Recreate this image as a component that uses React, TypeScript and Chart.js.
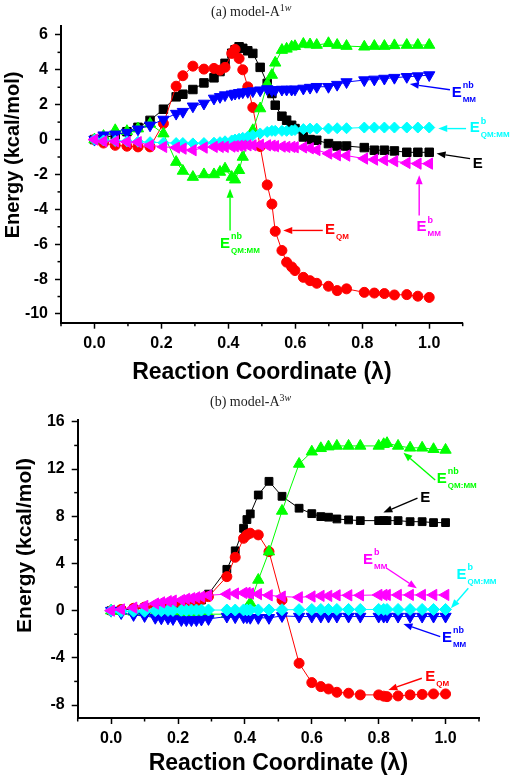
import React, { useEffect, useRef } from "react";
import { Chart, registerables } from "chart.js";
Chart.register(...registerables);

const SANS = "'Liberation Sans', Arial, Helvetica, sans-serif";

// ---------- Panel (a) model-A1w ----------
const lambdaA = [0, 0.027, 0.062, 0.097, 0.13, 0.166, 0.206, 0.244, 0.264, 0.294, 0.327, 0.357, 0.375, 0.39, 0.41, 0.42, 0.432, 0.443, 0.458, 0.473, 0.495, 0.516, 0.53, 0.54, 0.56, 0.574, 0.589, 0.599, 0.624, 0.644, 0.664, 0.699, 0.725, 0.753, 0.806, 0.836, 0.866, 0.896, 0.933, 0.966, 1.0];
const eTotalA = [0, 0.1, 0.25, 0.45, 0.7, 1.1, 1.74, 2.45, 2.6, 2.87, 3.25, 3.54, 3.9, 4.37, 4.95, 5.15, 5.32, 5.23, 5.09, 4.94, 4.14, 3.22, 2.64, 1.97, 1.34, 1.11, 0.82, 0.63, 0.15, 0.0, -0.04, -0.23, -0.37, -0.37, -0.46, -0.61, -0.61, -0.65, -0.73, -0.73, -0.73];
const eQMA = [0, -0.2, -0.33, -0.38, -0.42, -0.42, 0.92, 3.06, 3.66, 4.21, 4.04, 4.08, 3.98, 4.14, 4.94, 5.17, 4.65, 4.0, 3.02, 1.84, -0.4, -2.6, -3.7, -5.26, -6.36, -7.03, -7.3, -7.51, -7.9, -8.09, -8.24, -8.41, -8.66, -8.56, -8.76, -8.8, -8.83, -8.91, -8.89, -8.98, -9.05];
const eNbQMMMA = [0, 0.2, 0.53, 0.48, 0.63, 0.9, 0.34, -1.29, -1.8, -2.15, -2.0, -2.0, -1.86, -1.67, -2.15, -2.3, -1.76, -1.0, -0.2, 0.53, 1.78, 3.18, 3.7, 4.4, 5.13, 5.2, 5.32, 5.35, 5.48, 5.45, 5.42, 5.52, 5.42, 5.36, 5.32, 5.36, 5.36, 5.4, 5.42, 5.42, 5.42];
const eNbMMA = [0, 0.25, 0.3, 0.4, 0.59, 0.82, 1.15, 1.49, 1.6, 1.91, 2.07, 2.36, 2.45, 2.55, 2.6, 2.64, 2.68, 2.72, 2.74, 2.78, 2.83, 2.9, 2.83, 2.85, 2.87, 2.87, 2.87, 2.88, 2.93, 2.98, 3.03, 3.03, 3.15, 3.3, 3.41, 3.45, 3.5, 3.55, 3.6, 3.64, 3.7];
const eBQMMMA = [0, -0.05, -0.08, -0.1, -0.12, -0.15, -0.18, -0.2, -0.2, -0.22, -0.2, -0.18, -0.15, -0.1, -0.05, 0.0, 0.05, 0.1, 0.17, 0.25, 0.35, 0.44, 0.5, 0.5, 0.5, 0.5, 0.52, 0.55, 0.6, 0.63, 0.63, 0.63, 0.65, 0.65, 0.69, 0.69, 0.69, 0.69, 0.69, 0.69, 0.69];
const eBMMA = [0, -0.1, -0.1, -0.13, -0.15, -0.33, -0.42, -0.46, -0.52, -0.61, -0.46, -0.42, -0.42, -0.42, -0.4, -0.38, -0.36, -0.35, -0.33, -0.33, -0.3, -0.33, -0.35, -0.38, -0.4, -0.42, -0.42, -0.44, -0.45, -0.5, -0.6, -0.8, -0.9, -0.92, -1.09, -1.15, -1.18, -1.24, -1.34, -1.38, -1.38];

// ---------- Panel (b) model-A3w ----------
const lambdaB = [0, 0.03, 0.067, 0.1, 0.132, 0.15, 0.17, 0.185, 0.21, 0.225, 0.24, 0.255, 0.27, 0.291, 0.346, 0.371, 0.396, 0.406, 0.416, 0.44, 0.472, 0.511, 0.562, 0.6, 0.627, 0.65, 0.675, 0.71, 0.745, 0.8, 0.815, 0.825, 0.858, 0.894, 0.93, 0.964, 1.0];
const eTotalB = [0, 0.05, 0.15, 0.25, 0.35, 0.4, 0.45, 0.5, 0.6, 0.65, 0.7, 0.8, 0.9, 1.4, 3.5, 5.07, 6.98, 7.72, 8.2, 9.8, 10.96, 9.69, 8.68, 8.22, 7.97, 7.92, 7.77, 7.69, 7.63, 7.63, 7.63, 7.63, 7.63, 7.54, 7.54, 7.46, 7.46];
const eQMB = [0, 0.1, 0.2, 0.3, 0.4, 0.45, 0.5, 0.55, 0.65, 0.7, 0.78, 0.85, 0.95, 1.19, 2.88, 4.52, 6.13, 6.42, 6.56, 6.42, 5.0, 0.9, -4.46, -6.1, -6.44, -6.64, -6.92, -7.0, -7.14, -7.14, -7.25, -7.29, -7.23, -7.14, -7.1, -7.06, -7.06];
const eNbQMMMB = [0, -0.05, -0.1, -0.15, -0.2, -0.2, -0.25, -0.25, -0.3, -0.3, -0.3, -0.3, -0.3, -0.3, -0.3, -0.25, -0.1, 0.2, 0.65, 2.6, 5.0, 8.45, 12.43, 13.47, 13.76, 13.9, 13.96, 13.96, 13.96, 13.96, 14.1, 14.19, 13.96, 13.8, 13.8, 13.68, 13.62];
const eNbMMB = [0, -0.2, -0.36, -0.45, -0.6, -0.65, -0.65, -0.7, -0.79, -0.8, -0.8, -0.8, -0.75, -0.7, -0.5, -0.55, -0.55, -0.55, -0.6, -0.61, -0.61, -0.45, -0.5, -0.5, -0.5, -0.5, -0.5, -0.5, -0.5, -0.5, -0.5, -0.5, -0.5, -0.5, -0.5, -0.5, -0.5];
const eBQMMMB = [0, -0.05, -0.05, -0.05, 0, 0, 0.02, 0.02, 0.03, 0.03, 0.05, 0.05, 0.05, 0.05, 0.05, 0.05, 0.06, 0.06, 0.06, 0.06, 0.06, 0.08, 0.08, 0.1, 0.1, 0.1, 0.1, 0.1, 0.1, 0.1, 0.1, 0.1, 0.1, 0.1, 0.1, 0.1, 0.1];
const eBMMB = [0, 0.1, 0.25, 0.4, 0.6, 0.7, 0.8, 0.85, 0.9, 1.0, 1.05, 1.13, 1.19, 1.3, 1.4, 1.45, 1.5, 1.5, 1.45, 1.4, 1.3, 1.19, 1.13, 1.2, 1.25, 1.25, 1.3, 1.3, 1.3, 1.33, 1.33, 1.33, 1.33, 1.33, 1.33, 1.33, 1.33];

// ---------- tick values ----------
const xTickValues = [-0.1, 0, 0.1, 0.2, 0.3, 0.4, 0.5, 0.6, 0.7, 0.8, 0.9, 1.0, 1.1];
const yTickValuesA = [-10, -9, -8, -7, -6, -5, -4, -3, -2, -1, 0, 1, 2, 3, 4, 5, 6];
const yTickValuesB = [-8, -6, -4, -2, 0, 2, 4, 6, 8, 10, 12, 14, 16];

// ---------- series styles ----------
const seriesStyles = [
  { color: "#000000", point: "rect", rot: 0, order: 6 },
  { color: "#ff0000", point: "circle", rot: 0, order: 5 },
  { color: "#00ff00", point: "triangle", rot: 0, order: 4 },
  { color: "#0000ff", point: "triangle", rot: 180, order: 3 },
  { color: "#00ffff", point: "rectRot", rot: 0, order: 2 },
  { color: "#ff00ff", point: "triangle", rot: -90, order: 1 },
];

type Note = { tx: number; ty: number; sup: string; sub: string; color: string; a: [number, number, number, number] };

const notesA: Note[] = [
  { tx: 1.067, ty: 2.69, sup: "nb", sub: "MM", color: "#0000ff", a: [1.062, 2.86, 0.942, 3.18] },
  { tx: 1.121, ty: 0.65, sup: "b", sub: "QM:MM", color: "#00ffff", a: [1.11, 0.63, 1.027, 0.63] },
  { tx: 1.13, ty: -1.39, sup: "", sub: "", color: "#000000", a: [1.122, -1.09, 1.022, -0.8] },
  { tx: 0.962, ty: -5.02, sup: "b", sub: "MM", color: "#ff00ff", a: [0.97, -4.35, 0.97, -2.05] },
  { tx: 0.689, ty: -5.16, sup: "", sub: "QM", color: "#ff0000", a: [0.682, -5.21, 0.564, -5.21] },
  { tx: 0.375, ty: -5.96, sup: "nb", sub: "QM:MM", color: "#00ff00", a: [0.405, -5.21, 0.405, -2.82] },
];

const notesB: Note[] = [
  { tx: 0.974, ty: 11.16, sup: "nb", sub: "QM:MM", color: "#00ff00", a: [0.969, 11.08, 0.874, 13.39] },
  { tx: 0.924, ty: 9.55, sup: "", sub: "", color: "#000000", a: [0.916, 9.53, 0.814, 8.31] },
  { tx: 0.753, ty: 4.3, sup: "b", sub: "MM", color: "#ff00ff", a: [0.824, 3.59, 0.914, 1.9] },
  { tx: 1.033, ty: 3.03, sup: "b", sub: "QM:MM", color: "#00ffff", a: [1.068, 1.9, 1.016, 0.2] },
  { tx: 0.989, ty: -2.31, sup: "nb", sub: "MM", color: "#0000ff", a: [0.984, -2.2, 0.874, -1.13] },
  { tx: 0.939, ty: -5.62, sup: "", sub: "QM", color: "#ff0000", a: [0.929, -5.73, 0.829, -6.72] },
];

type PanelCfg = {
  top: number;
  height: number;
  lambda: number[];
  series: number[][];
  yMin: number;
  yMax: number;
  yTicks: number[];
  yMajor: number;
  pad: { left: number; right: number; top: number; bottom: number };
  yWidth: number;
  xHeight: number;
  yTitleSize: number;
  yTitlePad: number;
  yTitleLead: number;
  radii: number[];
  notes: Note[];
};

const isMajorX = (v: number) => Math.abs(Math.round(v * 10)) % 2 === 0;

function Panel({ cfg }: { cfg: PanelCfg }) {
  const ref = useRef<HTMLCanvasElement>(null);
  useEffect(() => {
    const isMajorY = (v: number) => Math.abs(Math.round(v)) % cfg.yMajor === 0;
    const datasets = cfg.series.map((vals, i) => {
      const s = seriesStyles[i];
      return {
        data: cfg.lambda.map((x, j) => ({ x, y: vals[j] })),
        showLine: true,
        borderColor: s.color,
        borderWidth: 1,
        backgroundColor: s.color,
        pointStyle: s.point,
        pointRotation: s.rot,
        pointRadius: cfg.radii[i],
        pointBackgroundColor: s.color,
        pointBorderColor: s.color,
        pointBorderWidth: 1,
        order: s.order,
        tension: 0,
      };
    });

    const decor = {
      id: "decor",
      afterDraw(chart: any) {
        const ctx = chart.ctx as CanvasRenderingContext2D;
        const xs = chart.scales.x;
        const ys = chart.scales.y;
        ctx.save();
        // minor ticks
        ctx.strokeStyle = "#000";
        ctx.lineWidth = 1.5;
        const axY = xs.top;
        for (const t of xs.ticks) {
          if (!isMajorX(t.value)) {
            const px = xs.getPixelForValue(t.value);
            ctx.beginPath();
            ctx.moveTo(px, axY);
            ctx.lineTo(px, axY + 3.5);
            ctx.stroke();
          }
        }
        const axX = ys.right;
        for (const t of ys.ticks) {
          if (!isMajorY(t.value)) {
            const py = ys.getPixelForValue(t.value);
            ctx.beginPath();
            ctx.moveTo(axX - 3.5, py);
            ctx.lineTo(axX, py);
            ctx.stroke();
          }
        }
        // annotations
        for (const n of cfg.notes) {
          ctx.fillStyle = n.color;
          ctx.strokeStyle = n.color;
          const px = xs.getPixelForValue(n.tx);
          const py = ys.getPixelForValue(n.ty);
          ctx.textAlign = "left";
          ctx.textBaseline = "middle";
          ctx.font = `bold 15px ${SANS}`;
          ctx.fillText("E", px, py);
          const w = ctx.measureText("E").width;
          if (n.sup) {
            ctx.font = `bold 9px ${SANS}`;
            ctx.fillText(n.sup, px + w + 1, py - 7);
          }
          if (n.sub) {
            ctx.font = `bold 8px ${SANS}`;
            ctx.fillText(n.sub, px + w + 1, py + 7);
          }
          const x1 = xs.getPixelForValue(n.a[0]);
          const y1 = ys.getPixelForValue(n.a[1]);
          const x2 = xs.getPixelForValue(n.a[2]);
          const y2 = ys.getPixelForValue(n.a[3]);
          const ang = Math.atan2(y2 - y1, x2 - x1);
          const hl = 9, hw = 3.5;
          const bx = x2 - Math.cos(ang) * hl;
          const by = y2 - Math.sin(ang) * hl;
          ctx.lineWidth = 1.4;
          ctx.beginPath();
          ctx.moveTo(x1, y1);
          ctx.lineTo(bx, by);
          ctx.stroke();
          ctx.beginPath();
          ctx.moveTo(x2, y2);
          ctx.lineTo(bx - Math.sin(ang) * hw, by + Math.cos(ang) * hw);
          ctx.lineTo(bx + Math.sin(ang) * hw, by - Math.cos(ang) * hw);
          ctx.closePath();
          ctx.fill();
        }
        ctx.restore();
      },
    };

    const chart = new Chart(ref.current as HTMLCanvasElement, {
      type: "scatter",
      data: { datasets: datasets as any },
      options: {
        animation: false,
        responsive: false,
        maintainAspectRatio: false,
        layout: { padding: cfg.pad },
        plugins: { legend: { display: false }, tooltip: { enabled: false } },
        scales: {
          x: {
            type: "linear",
            min: -0.1,
            max: 1.1,
            afterBuildTicks: (s: any) => {
              s.ticks = xTickValues.map((v) => ({ value: v }));
            },
            afterFit: (s: any) => {
              s.height = cfg.xHeight;
            },
            border: { display: true, color: "#000", width: 2 },
            grid: {
              drawOnChartArea: false,
              drawTicks: true,
              tickLength: 6,
              tickWidth: 1.5,
              tickColor: (c: any) => (c.tick && isMajorX(c.tick.value) ? "#000" : "rgba(0,0,0,0)"),
            },
            ticks: {
              autoSkip: false,
              maxRotation: 0,
              padding: 5,
              color: "#000",
              font: { family: SANS, weight: "bold", size: 16 },
              callback: (v: any) => {
                const n = Number(v);
                return isMajorX(n) && n > -0.05 && n < 1.05 ? n.toFixed(1) : "";
              },
            },
            title: {
              display: true,
              text: "Reaction Coordinate (λ)",
              color: "#000",
              font: { family: SANS, weight: "bold", size: 23 },
              padding: { top: 0, bottom: 4 },
            },
          },
          y: {
            type: "linear",
            min: cfg.yMin,
            max: cfg.yMax,
            afterBuildTicks: (s: any) => {
              s.ticks = cfg.yTicks.map((v) => ({ value: v }));
            },
            afterFit: (s: any) => {
              s.width = cfg.yWidth;
            },
            border: { display: true, color: "#000", width: 2 },
            grid: {
              drawOnChartArea: false,
              drawTicks: true,
              tickLength: 6,
              tickWidth: 1.5,
              tickColor: (c: any) => (c.tick && isMajorY(c.tick.value) ? "#000" : "rgba(0,0,0,0)"),
            },
            ticks: {
              autoSkip: false,
              padding: 7,
              color: "#000",
              font: { family: SANS, weight: "bold", size: 16 },
              callback: (v: any) => {
                const n = Number(v);
                return isMajorY(n) ? String(n) : "";
              },
            },
            title: {
              display: true,
              text: " ".repeat(cfg.yTitleLead) + "Energy (kcal/mol)",
              color: "#000",
              font: { family: SANS, weight: "bold", size: cfg.yTitleSize },
              padding: { top: cfg.yTitlePad, bottom: 0 },
            },
          },
        },
      } as any,
      plugins: [decor],
    });
    return () => chart.destroy();
  }, []);
  return (
    <canvas
      ref={ref}
      width={512}
      height={cfg.height}
      style={{ position: "absolute", left: 0, top: cfg.top, width: 512, height: cfg.height }}
    />
  );
}

const panelA: PanelCfg = {
  top: 0,
  height: 390,
  lambda: lambdaA,
  series: [eTotalA, eQMA, eNbQMMMA, eNbMMA, eBQMMMA, eBMMA],
  yMin: -10.5,
  yMax: 6.5,
  yTicks: yTickValuesA,
  yMajor: 2,
  pad: { left: 0, right: 49.3, top: 26.2, bottom: 0 },
  yWidth: 61,
  xHeight: 67.3,
  yTitleSize: 20,
  yTitlePad: 1,
  yTitleLead: 7,
  radii: [6, 5, 6.5, 6.5, 5.5, 6.5],
  notes: notesA,
};

const panelB: PanelCfg = {
  top: 390,
  height: 391,
  lambda: lambdaB,
  series: [eTotalB, eQMB, eNbQMMMB, eNbMMB, eBQMMMB, eBMMB],
  yMin: -9.1,
  yMax: 16.2,
  yTicks: yTickValuesB,
  yMajor: 4,
  pad: { left: 0, right: 33, top: 29.5, bottom: 0 },
  yWidth: 77.7,
  xHeight: 63,
  yTitleSize: 21,
  yTitlePad: 13,
  yTitleLead: 8,
  radii: [5.5, 5, 6.5, 6.5, 6, 6.5],
  notes: notesB,
};

const titleStyle: React.CSSProperties = {
  position: "absolute",
  font: "14px 'Liberation Serif', 'Times New Roman', serif",
  lineHeight: "16px",
  whiteSpace: "nowrap",
  color: "#222",
};
const supStyle: React.CSSProperties = { fontSize: 10, position: "relative", top: -5 };

export default function App() {
  return (
    <div style={{ position: "absolute", left: 0, top: 0, width: 512, height: 781, background: "#fff", overflow: "hidden" }}>
      <Panel cfg={panelA} />
      <Panel cfg={panelB} />
      <div style={{ ...titleStyle, left: 211, top: 4 }}>
        (a) model-A<span style={supStyle}>1<i>w</i></span>
      </div>
      <div style={{ ...titleStyle, left: 210, top: 394 }}>
        (b) model-A<span style={supStyle}>3<i>w</i></span>
      </div>
    </div>
  );
}
